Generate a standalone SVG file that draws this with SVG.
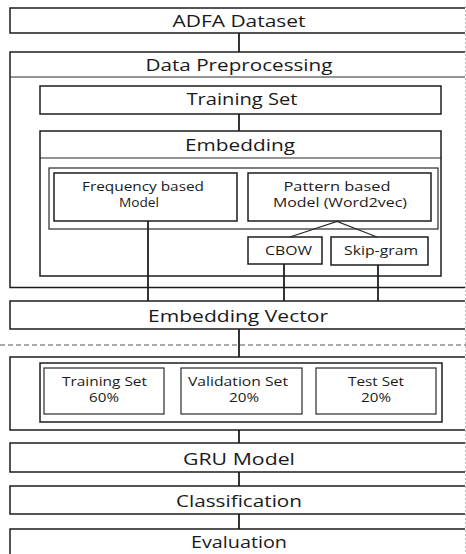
<svg xmlns="http://www.w3.org/2000/svg" width="466" height="554" viewBox="0 0 466 554">
  <style>
    .box { fill: none; stroke: #1c1c1c; stroke-width: 1.5; }
    .thin { fill: none; stroke: #2a2a2a; stroke-width: 1.2; }
    .link { fill: none; stroke: #111; stroke-width: 1.7; }
    .lbl { font-family: "Open Sans", "Noto Sans", sans-serif; font-size: 16.5px; fill: #1a1a1a; text-anchor: middle; }
    .sm { font-family: "Open Sans", "Noto Sans", sans-serif; font-size: 11.8px; fill: #1a1a1a; text-anchor: middle; }
    .one { font-size: 13px; }
  </style>
  <rect width="466" height="554" fill="#ffffff"/>

  <!-- faint right margin -->
  <line x1="465.5" y1="6" x2="465.5" y2="554" stroke="#bdbdbd" stroke-width="1" stroke-dasharray="2 2"/>

  <!-- stage separator -->
  <line x1="0" y1="345" x2="466" y2="345" stroke="#555" stroke-width="1.2" stroke-dasharray="5 3"/>

  <g id="connectors">
    <line class="link" x1="239" y1="33" x2="239" y2="52"/>
    <line class="link" x1="239" y1="114" x2="239" y2="131"/>
    <polyline class="thin" points="290,237 337,221.5 377,237"/>
    <line class="link" x1="148" y1="221" x2="148" y2="301"/>
    <line class="link" x1="284" y1="264" x2="284" y2="301"/>
    <line class="link" x1="378" y1="265" x2="378" y2="301"/>
    <line class="link" x1="239" y1="329" x2="239" y2="357"/>
    <line class="link" x1="239" y1="430" x2="239" y2="443"/>
    <line class="link" x1="239" y1="472" x2="239" y2="486"/>
    <line class="link" x1="239" y1="514" x2="239" y2="529"/>
  </g>

  <g id="adfa-dataset">
    <path class="box" d="M465,8 H10 V33 H465"/>
    <text class="lbl" x="239" y="27" textLength="133" lengthAdjust="spacingAndGlyphs">ADFA Dataset</text>
  </g>

  <g id="data-preprocessing">
    <path class="box" d="M465,52 H10 V287.5 H465" stroke-width="2"/>
    <line class="thin" x1="10" y1="77" x2="465" y2="77"/>
    <text class="lbl" x="239" y="71" textLength="187" lengthAdjust="spacingAndGlyphs">Data Preprocessing</text>
  </g>

  <g id="training-set">
    <rect class="box" x="40" y="86" width="401" height="28"/>
    <text class="lbl" x="242" y="105" textLength="111" lengthAdjust="spacingAndGlyphs">Training Set</text>
  </g>

  <g id="embedding">
    <rect class="box" x="40" y="131" width="401" height="145"/>
    <line class="thin" x1="40" y1="158" x2="441" y2="158"/>
    <text class="lbl" x="240" y="151" textLength="110" lengthAdjust="spacingAndGlyphs">Embedding</text>
  </g>

  <g id="embedding-models">
    <rect class="thin" x="49" y="168" width="389" height="61"/>
  </g>

  <g id="frequency-model">
    <rect class="box" x="54" y="173" width="183" height="48"/>
    <text class="sm"><tspan x="143" y="191" textLength="122" lengthAdjust="spacingAndGlyphs">Frequency based</tspan><tspan x="139" y="207" textLength="40" lengthAdjust="spacingAndGlyphs">Model</tspan></text>
  </g>

  <g id="pattern-model">
    <rect class="box" x="248" y="173" width="183" height="48"/>
    <text class="sm"><tspan x="337" y="191" textLength="107" lengthAdjust="spacingAndGlyphs">Pattern based</tspan><tspan x="340" y="207" textLength="134" lengthAdjust="spacingAndGlyphs">Model (Word2vec)</tspan></text>
  </g>

  <g id="cbow">
    <rect class="box" x="248" y="237" width="74" height="27"/>
    <text class="sm one" x="288.5" y="255" textLength="47" lengthAdjust="spacingAndGlyphs">CBOW</text>
  </g>

  <g id="skip-gram">
    <rect class="box" x="331" y="237" width="97" height="28"/>
    <text class="sm one" x="381" y="255" textLength="74" lengthAdjust="spacingAndGlyphs">Skip-gram</text>
  </g>

  <g id="embedding-vector">
    <path class="box" d="M465,301 H10 V329 H465" stroke-width="1.8"/>
    <text class="lbl" x="238" y="322" textLength="180" lengthAdjust="spacingAndGlyphs">Embedding Vector</text>
  </g>

  <g id="data-split">
    <path class="box" d="M465,357 H10 V430 H465"/>
    <rect class="box" x="40" y="363" width="402" height="59"/>
  </g>

  <g id="split-training">
    <rect class="thin" x="44" y="368" width="120" height="46"/>
    <text class="sm"><tspan x="104.5" y="386" textLength="85" lengthAdjust="spacingAndGlyphs">Training Set</tspan><tspan x="104" y="402" textLength="30" lengthAdjust="spacingAndGlyphs">60%</tspan></text>
  </g>

  <g id="split-validation">
    <rect class="thin" x="181" y="368" width="121" height="46"/>
    <text class="sm"><tspan x="238" y="386" textLength="100" lengthAdjust="spacingAndGlyphs">Validation Set</tspan><tspan x="244" y="402" textLength="30" lengthAdjust="spacingAndGlyphs">20%</tspan></text>
  </g>

  <g id="split-test">
    <rect class="thin" x="316" y="368" width="120" height="46"/>
    <text class="sm"><tspan x="376" y="386" textLength="56" lengthAdjust="spacingAndGlyphs">Test Set</tspan><tspan x="376" y="402" textLength="30" lengthAdjust="spacingAndGlyphs">20%</tspan></text>
  </g>

  <g id="gru-model">
    <path class="box" d="M465,443 H10 V472 H465"/>
    <text class="lbl" x="239" y="465" textLength="112" lengthAdjust="spacingAndGlyphs">GRU Model</text>
  </g>

  <g id="classification">
    <path class="box" d="M465,486 H10 V514 H465"/>
    <text class="lbl" x="239" y="507" textLength="126" lengthAdjust="spacingAndGlyphs">Classification</text>
  </g>

  <g id="evaluation">
    <path class="box" d="M465,529 H10 V554"/>
    <text class="lbl" x="239" y="548" textLength="96" lengthAdjust="spacingAndGlyphs">Evaluation</text>
  </g>
</svg>
